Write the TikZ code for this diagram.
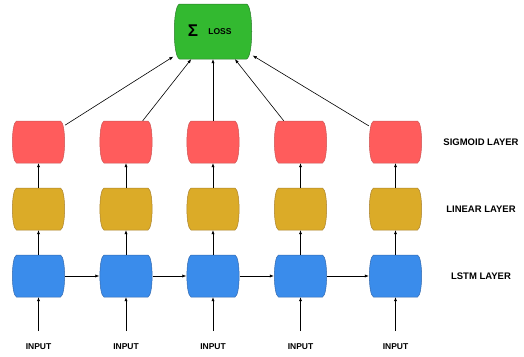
\documentclass[tikz,border=0pt]{standalone}
\usepackage{fontspec}
\setmainfont{Liberation Sans}
\usetikzlibrary{arrows.meta}
\definecolor{redfill}{RGB}{255,92,92}
\definecolor{redline}{RGB}{205,85,85}
\definecolor{yelfill}{RGB}{219,171,40}
\definecolor{yelline}{RGB}{170,130,45}
\definecolor{bluefill}{RGB}{58,140,235}
\definecolor{blueline}{RGB}{50,105,175}
\definecolor{greenfill}{RGB}{51,185,48}
\definecolor{greenline}{RGB}{45,125,45}
\tikzset{
  sigbox/.style={fill=redfill, draw=redline, line width=0.5pt},
  linbox/.style={fill=yelfill, draw=yelline, line width=0.5pt},
  lstmbox/.style={fill=bluefill, draw=blueline, line width=0.5pt},
  lossbox/.style={fill=greenfill, draw=greenline, line width=0.5pt},
  lbl/.style={font=\bfseries\fontsize{8.5}{10}\selectfont},
  layerlbl/.style={font=\bfseries\fontsize{9.5}{11}\selectfont},
  arr/.style={-{Latex[length=4pt,width=3.2pt]}, line width=0.6pt},
}
% #1 name, #2 x, #3 y, #4 half width, #5 half height, #6 style, #7 inset
\newcommand\barrelnode[7]{%
  \path[#6] ({#2-#4+#7},{#3-#5}) -- ({#2+#4-#7},{#3-#5})
     .. controls ({#2+#4+1},{#3-#5+2}) and ({#2+#4+1},{#3+#5-2}) .. ({#2+#4-#7},{#3+#5})
     -- ({#2-#4+#7},{#3+#5})
     .. controls ({#2-#4-1},{#3+#5-2}) and ({#2-#4-1},{#3-#5+2}) .. ({#2-#4+#7},{#3-#5})
     -- cycle;
  \node[rectangle, inner sep=0pt, minimum width={2*#4}, minimum height={2*#5}] (#1) at (#2,#3) {};
}
\begin{document}
\begin{tikzpicture}[x=1pt,y=-1pt]
\useasboundingbox (0,0) rectangle (524,356);
\barrelnode{loss}{213}{31.5}{39.5}{27.5}{lossbox}{6}
\node[font=\bfseries\fontsize{17}{17}\selectfont] (sigma) at (193,31) {Σ};
\node[lbl] (losst) at (220,31.5) {LOSS};
\foreach \i/\x in {1/38.5,2/126,3/213,4/300.5,5/395.5}{
  \barrelnode{r\i}{\x}{142}{26.5}{21}{sigbox}{4.5}
  \barrelnode{y\i}{\x}{209}{26.5}{21}{linbox}{4.5}
  \barrelnode{b\i}{\x}{276}{26.5}{21}{lstmbox}{4.5}
  \coordinate (c\i) at (\x,331);
  \node[lbl] (in\i) at (\x,347) {INPUT};
  \draw[arr] (c\i) -- (b\i);
  \draw[arr] (b\i) -- (y\i);
  \draw[arr] (y\i) -- (r\i);
  \draw[arr] (r\i) -- (loss);
}
\foreach \a/\b in {1/2,2/3,3/4,4/5}{
  \draw[arr] (b\a) -- (b\b);
}
\node[layerlbl] (ls) at (481,142) {SIGMOID LAYER};
\node[layerlbl] (ll) at (481,209) {LINEAR LAYER};
\node[layerlbl] (lt) at (481,276) {LSTM LAYER};
\end{tikzpicture}
\end{document}
